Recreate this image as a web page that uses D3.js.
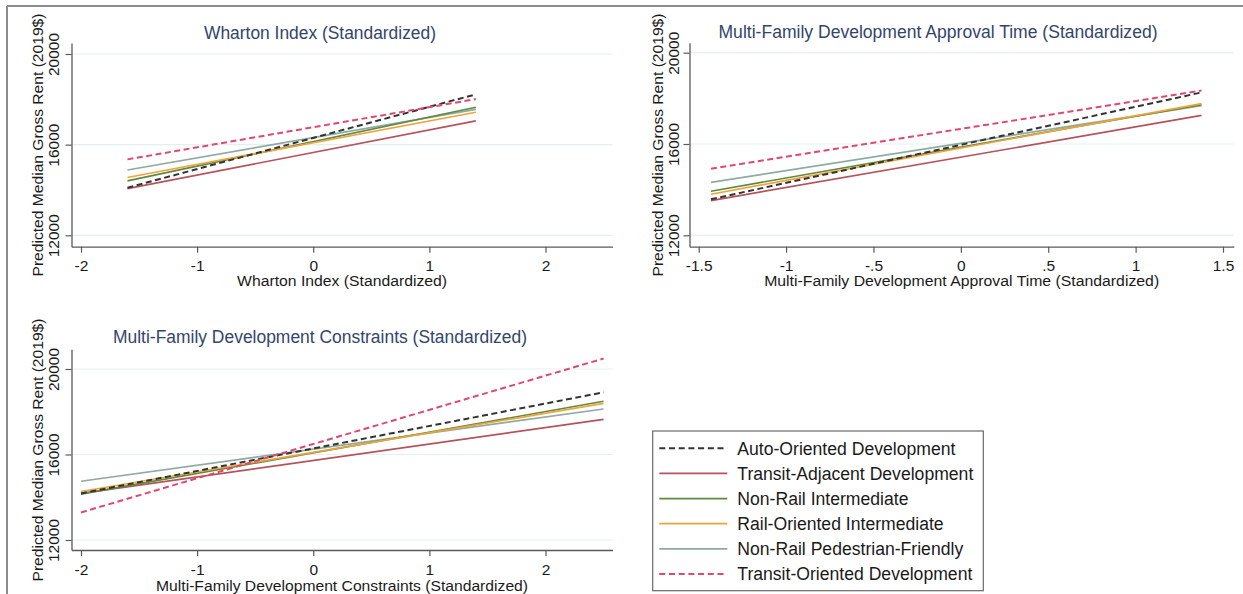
<!DOCTYPE html>
<html>
<head>
<meta charset="utf-8">
<script src="https://cdn.jsdelivr.net/npm/d3@7"></script>
<style>
  html, body { margin: 0; padding: 0; background: #fff; }
  svg { display: block; font-family: "Liberation Sans", Arial, sans-serif; }
</style>
</head>
<body>
<svg id="chart" width="1243" height="594"></svg>
<script>
// ---------- DATA ----------
const seriesNames = [
  "Auto-Oriented Development",
  "Transit-Adjacent Development",
  "Non-Rail Intermediate",
  "Rail-Oriented Intermediate",
  "Non-Rail Pedestrian-Friendly",
  "Transit-Oriented Development"
];
const seriesColors = ["#333333", "#b5525c", "#5d8a3e", "#f2a23a", "#8fab9f", "#e2476f"];
const seriesDashed = [true, false, false, false, false, true];

const panelTitles = [
  "Wharton Index (Standardized)",
  "Multi-Family Development Approval Time (Standardized)",
  "Multi-Family Development Constraints (Standardized)"
];
const yAxisTitle = "Predicted Median Gross Rent (2019$)";
const yTicks = [12000, 16000, 20000];

// Panel 1: Wharton Index
const whartonX = [-1.6, 1.4];
const whartonStart = [14100, 14060, 14400, 14550, 14880, 15350];
const whartonEnd   = [18220, 17050, 17650, 17430, 17560, 18010];
const whartonTicks = [-2, -1, 0, 1, 2];

// Panel 2: Approval time
const approvalX = [-1.43, 1.377];
const approvalStart = [13580, 13520, 13930, 13800, 14320, 14920];
const approvalEnd   = [18260, 17255, 17720, 17770, 17680, 18340];
const approvalTicks = [-1.5, -1, -0.5, 0, 0.5, 1, 1.5];

// Panel 3: Constraints
const constraintsX = [-2, 2.5];
const constraintsStart = [14180, 14180, 14150, 14270, 14750, 13290];
const constraintsEnd   = [18910, 17640, 18490, 18390, 18130, 20490];
const constraintsTicks = [-2, -1, 0, 1, 2];

// ---------- LAYOUT ----------
const svg = d3.select("#chart");
svg.append("rect").attr("width", 1243).attr("height", 594).attr("fill", "#fff");

// outer frame (cropped screenshot border)
svg.append("line").attr("x1", 7).attr("x2", 1243).attr("y1", 6).attr("y2", 6)
  .attr("stroke", "#8c8c8c").attr("stroke-width", 2);
svg.append("line").attr("x1", 7).attr("x2", 7).attr("y1", 6).attr("y2", 594)
  .attr("stroke", "#8c8c8c").attr("stroke-width", 2);

const panels = [
  { title: panelTitles[0], xs: whartonX, start: whartonStart, end: whartonEnd, ticks: whartonTicks,
    left: 71.5, right: 612.6, top: 43, bottom: 246.7,
    xRef: [-2, 2], xPix: [81, 545.5], yPix: [235.3, 54],
    titleX: 320, titleY: 33, titleW: 232, xTitleY: 280, xTitleW: 210, tickLabY: 265,
    yTitleX: 37.5, yTickX: 53.4, yTitleCY: 145 },
  { title: panelTitles[1], xs: approvalX, start: approvalStart, end: approvalEnd, ticks: approvalTicks,
    left: 689.5, right: 1233.8, top: 42.7, bottom: 246.7,
    xRef: [-1.5, 1.5], xPix: [698.7, 1223], yPix: [235.3, 52.7],
    titleX: 938, titleY: 32, titleW: 439, xTitleY: 280, xTitleW: 395, tickLabY: 265,
    yTitleX: 657.7, yTickX: 673.6, yTitleCY: 145 },
  { title: panelTitles[2], xs: constraintsX, start: constraintsStart, end: constraintsEnd, ticks: constraintsTicks,
    left: 71.5, right: 612.6, top: 349.3, bottom: 550,
    xRef: [-2, 2], xPix: [81, 545.5], yPix: [540, 369],
    titleX: 320, titleY: 337, titleW: 414, xTitleY: 585, xTitleW: 372, tickLabY: 569.5,
    yTitleX: 37.5, yTickX: 53.4, yTitleCY: 450 }
];

const fmtTick = d => String(d).replace(/^(-?)0\./, "$1.");

panels.forEach(p => {
  const g = svg.append("g");
  const x0 = d3.scaleLinear().domain(p.xRef).range(p.xPix);
  const x = d3.scaleLinear().domain([x0.invert(p.left), x0.invert(p.right)]).range([p.left, p.right]);
  const y0 = d3.scaleLinear().domain([12000, 20000]).range(p.yPix);
  const y = d3.scaleLinear().domain([y0.invert(p.bottom), y0.invert(p.top)]).range([p.bottom, p.top]);

  g.selectAll(".grid").data(yTicks).enter().append("line")
    .attr("x1", p.left).attr("x2", p.right)
    .attr("y1", d => y(d)).attr("y2", d => y(d))
    .attr("stroke", "#e6efef").attr("stroke-width", 1.2);

  const xa = g.append("g").attr("transform", `translate(0,${p.bottom})`)
    .call(d3.axisBottom(x).tickValues(p.ticks).tickSize(6).tickSizeOuter(0).tickFormat(fmtTick));
  xa.select(".domain").attr("stroke", "#5a5a5a").attr("stroke-width", 1.3);
  xa.selectAll(".tick line").attr("stroke", "#5a5a5a").attr("stroke-width", 1.2);
  xa.selectAll(".tick text")
    .attr("y", p.tickLabY - p.bottom).attr("dy", "0.36em")
    .attr("font-size", 15.5).attr("fill", "#1a1a1a").attr("font-family", "Liberation Sans, Arial, sans-serif");

  const ya = g.append("g").attr("transform", `translate(${p.left},0)`)
    .call(d3.axisLeft(y).tickValues(yTicks).tickSize(6).tickSizeOuter(0).tickFormat(d3.format("d")));
  ya.select(".domain").attr("stroke", "#5a5a5a").attr("stroke-width", 1.3);
  ya.selectAll(".tick line").attr("stroke", "#5a5a5a").attr("stroke-width", 1.2);
  ya.selectAll(".tick text")
    .attr("x", 0).attr("y", 0).attr("dy", "0.36em")
    .attr("text-anchor", "middle")
    .attr("transform", `translate(${p.yTickX - p.left},0) rotate(-90)`)
    .attr("font-size", 15.5).attr("fill", "#1a1a1a").attr("font-family", "Liberation Sans, Arial, sans-serif");

  const line = d3.line().x(d => x(d[0])).y(d => y(d[1]));
  const order = [4, 1, 2, 3, 0, 5];
  order.forEach(i => {
    const pts = [[p.xs[0], p.start[i]], [p.xs[1], p.end[i]]];
    g.append("path").datum(pts).attr("d", line)
      .attr("fill", "none")
      .attr("stroke", seriesColors[i])
      .attr("stroke-width", seriesDashed[i] ? 2 : 1.7)
      .attr("stroke-dasharray", seriesDashed[i] ? "6,3.5" : null);
  });

  g.append("text").attr("x", p.titleX).attr("y", p.titleY).attr("dy", "0.36em")
    .attr("text-anchor", "middle").attr("font-size", 17.5).attr("fill", "#34456a")
    .attr("textLength", p.titleW).attr("lengthAdjust", "spacingAndGlyphs")
    .text(p.title);

  g.append("text").attr("x", (p.left + p.right) / 2).attr("y", p.xTitleY).attr("dy", "0.36em")
    .attr("text-anchor", "middle").attr("font-size", 15.5).attr("fill", "#1a1a1a")
    .attr("textLength", p.xTitleW).attr("lengthAdjust", "spacingAndGlyphs")
    .text(p.title);

  g.append("text").attr("transform", `translate(${p.yTitleX},${p.yTitleCY}) rotate(-90)`)
    .attr("dy", "0.36em").attr("text-anchor", "middle").attr("font-size", 15.5).attr("fill", "#1a1a1a")
    .attr("textLength", 263).attr("lengthAdjust", "spacingAndGlyphs")
    .text(yAxisTitle);
});

// ---------- LEGEND ----------
const lg = svg.append("g");
lg.append("rect").attr("x", 652.7).attr("y", 431).attr("width", 330.6).attr("height", 159.7)
  .attr("fill", "#fff").attr("stroke", "#6a6a6a").attr("stroke-width", 1.2);
const rowY = d3.scaleLinear().domain([0, 5]).range([448.3, 574]);
seriesNames.forEach((name, i) => {
  lg.append("line").attr("x1", 659.3).attr("x2", 727.3).attr("y1", rowY(i)).attr("y2", rowY(i))
    .attr("stroke", seriesColors[i])
    .attr("stroke-width", seriesDashed[i] ? 2 : 1.7)
    .attr("stroke-dasharray", seriesDashed[i] ? "6,3.7" : null);
  lg.append("text").attr("x", 737.3).attr("y", rowY(i)).attr("dy", "0.36em")
    .attr("font-size", 17.6).attr("fill", "#1a1a1a")
    .text(name);
});
</script>
</body>
</html>
